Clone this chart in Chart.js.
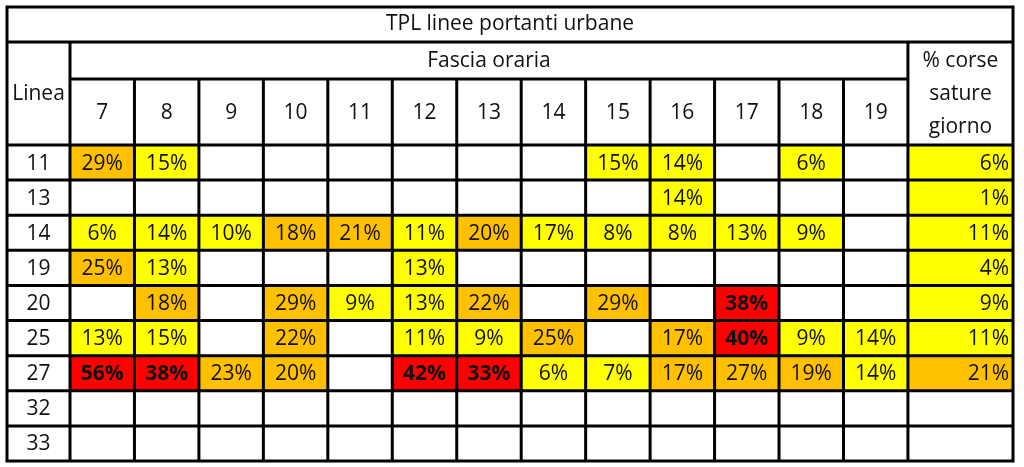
<!DOCTYPE html>
<html>
<head>
<meta charset="utf-8">
<script src="https://cdn.jsdelivr.net/npm/chart.js@4.4.1/dist/chart.umd.min.js"></script>
<style>
  body { margin: 0; background: #fff; }
</style>
</head>
<body>
<canvas id="grafik" width="1024" height="467"></canvas>
<script>
const titolo = "TPL linee portanti urbane";
const fascia = "Fascia oraria";
const intestLinea = "Linea";
const intestTotale = ["% corse", "sature", "giorno"];

const linee = ["11", "13", "14", "19", "20", "25", "27", "32", "33"];
const ore = [7, 8, 9, 10, 11, 12, 13, 14, 15, 16, 17, 18, 19];

// % corse sature per fascia oraria (null = cella vuota)
const linea11 = [29, 15, null, null, null, null, null, null, 15, 14, null, 6, null];
const linea13 = [null, null, null, null, null, null, null, null, null, 14, null, null, null];
const linea14 = [6, 14, 10, 18, 21, 11, 20, 17, 8, 8, 13, 9, null];
const linea19 = [25, 13, null, null, null, 13, null, null, null, null, null, null, null];
const linea20 = [null, 18, null, 29, 9, 13, 22, null, 29, null, 38, null, null];
const linea25 = [13, 15, null, 22, null, 11, 9, 25, null, 17, 40, 9, 14];
const linea27 = [56, 38, 23, 20, null, 42, 33, 6, 7, 17, 27, 19, 14];
const linea32 = [null, null, null, null, null, null, null, null, null, null, null, null, null];
const linea33 = [null, null, null, null, null, null, null, null, null, null, null, null, null];
const totaleGiorno = [6, 1, 11, 4, 9, 11, 21, null, null];

// livello colore della cella: 1 giallo, 2 arancio, 3 rosso
const liv11 = [2, 1, 0, 0, 0, 0, 0, 0, 1, 1, 0, 1, 0];
const liv13 = [0, 0, 0, 0, 0, 0, 0, 0, 0, 1, 0, 0, 0];
const liv14 = [1, 1, 1, 2, 2, 1, 2, 1, 1, 1, 1, 1, 0];
const liv19 = [2, 1, 0, 0, 0, 1, 0, 0, 0, 0, 0, 0, 0];
const liv20 = [0, 2, 0, 2, 1, 1, 2, 0, 2, 0, 3, 0, 0];
const liv25 = [1, 1, 0, 2, 0, 1, 1, 2, 0, 2, 3, 1, 1];
const liv27 = [3, 3, 2, 2, 0, 3, 3, 1, 1, 2, 2, 2, 1];
const liv32 = [0, 0, 0, 0, 0, 0, 0, 0, 0, 0, 0, 0, 0];
const liv33 = [0, 0, 0, 0, 0, 0, 0, 0, 0, 0, 0, 0, 0];
const livTotale = [1, 1, 1, 1, 1, 1, 2, 0, 0];

const valori = [linea11, linea13, linea14, linea19, linea20, linea25, linea27, linea32, linea33];
const livelli = [liv11, liv13, liv14, liv19, liv20, liv25, liv27, liv32, liv33];

const colori = ["#ffffff", "#ffff00", "#ffc000", "#ff0000"];
const FONT = "'Open Sans', sans-serif";
const X_MIN = 6.5;
const X_MAX = 21.13; // fine colonna "% corse sature giorno"
const TAB_LEFT = 7, TAB_TOP = 7, RIGA1 = 42, RIGA2 = 79;

const datasets = ore.map((h, c) => ({
  label: String(h),
  valori: valori.map(r => r[c]),
  data: valori.map(r => (r[c] == null ? null : [h - 0.5, h + 0.5])),
  backgroundColor: livelli.map(r => colori[r[c]]),
}));
datasets.push({
  label: "totale",
  totale: true,
  valori: totaleGiorno,
  data: totaleGiorno.map(v => (v == null ? null : [ore[ore.length - 1] + 0.5, X_MAX])),
  backgroundColor: livTotale.map(l => colori[l]),
});

const tabella = {
  id: "tabella",
  beforeDraw(chart) {
    const ctx = chart.ctx;
    ctx.save();
    ctx.fillStyle = "#fff";
    ctx.fillRect(0, 0, chart.width, chart.height);
    ctx.restore();
  },
  afterDatasetsDraw(chart) {
    const ctx = chart.ctx;
    const xs = chart.scales.x, ys = chart.scales.y;
    const area = chart.chartArea;
    const half = (ys.getPixelForValue(1) - ys.getPixelForValue(0)) / 2;
    ctx.save();
    ctx.fillStyle = "#111";
    ctx.textBaseline = "middle";

    // valori nelle celle
    chart.data.datasets.forEach((ds, di) => {
      const meta = chart.getDatasetMeta(di);
      meta.data.forEach((bar, i) => {
        const v = ds.valori[i];
        if (v == null) return;
        const p = bar.getProps(["x", "y", "base"], true);
        const liv = ds.totale ? livTotale[i] : livelli[i][di];
        ctx.font = (liv === 3 ? "bold " : "") + "21px " + FONT;
        if (ds.totale) {
          ctx.textAlign = "right";
          ctx.fillText(v + "%", Math.max(p.x, p.base) - 4, p.y + 1);
        } else {
          ctx.textAlign = "center";
          ctx.fillText(v + "%", (p.x + p.base) / 2, p.y + 1);
        }
      });
    });

    // intestazioni
    ctx.font = "21px " + FONT;
    ctx.textAlign = "center";
    const xTot = xs.getPixelForValue(ore[ore.length - 1] + 0.5);
    const right = area.right;
    ctx.fillText(titolo, (TAB_LEFT + right) / 2, (TAB_TOP + RIGA1) / 2);
    ctx.fillText(fascia, (area.left + xTot) / 2, (RIGA1 + RIGA2) / 2 + 1);
    ctx.fillText(intestLinea, (TAB_LEFT + area.left) / 2, (RIGA1 + area.top) / 2 + 1);
    ore.forEach(h => ctx.fillText(String(h), xs.getPixelForValue(h), (RIGA2 + area.top) / 2 + 1));
    intestTotale.forEach((t, k) => ctx.fillText(t, (xTot + right) / 2, (RIGA1 + area.top) / 2 + 1 + (k - 1) * 33));
    linee.forEach((l, i) => ctx.fillText(l, (TAB_LEFT + area.left) / 2, ys.getPixelForValue(i) + 1));

    // bordi
    ctx.strokeStyle = "#000";
    ctx.lineWidth = 3;
    const linea = (x1, y1, x2, y2) => {
      ctx.beginPath();
      ctx.moveTo(x1, y1);
      ctx.lineTo(x2, y2);
      ctx.stroke();
    };
    ctx.strokeRect(TAB_LEFT, TAB_TOP, right - TAB_LEFT, area.bottom - TAB_TOP);
    linea(TAB_LEFT, RIGA1, right, RIGA1);
    linea(area.left, RIGA2, xTot, RIGA2);
    linea(TAB_LEFT, area.top, right, area.top);
    for (let i = 1; i < linee.length; i++) {
      const yy = ys.getPixelForValue(i) - half;
      linea(TAB_LEFT, yy, right, yy);
    }
    linea(area.left, RIGA1, area.left, area.bottom);
    linea(xTot, RIGA1, xTot, area.bottom);
    for (let k = 1; k < ore.length; k++) {
      const xx = xs.getPixelForValue(ore[k] - 0.5);
      linea(xx, RIGA2, xx, area.bottom);
    }
    ctx.restore();
  },
};

const crt = new Chart(document.getElementById("grafik"), {
  type: "bar",
  data: { labels: linee, datasets: datasets },
  options: {
    indexAxis: "y",
    responsive: false,
    animation: false,
    layout: { padding: { top: 145, left: 70, right: 11, bottom: 6 } },
    datasets: {
      bar: { grouped: false, barPercentage: 1, categoryPercentage: 1, borderWidth: 0 },
    },
    scales: {
      x: { type: "linear", min: X_MIN, max: X_MAX, display: false },
      y: { display: false },
    },
    plugins: {
      legend: { display: false },
      tooltip: { enabled: false },
    },
  },
  plugins: [tabella],
});
</script>
</body>
</html>
